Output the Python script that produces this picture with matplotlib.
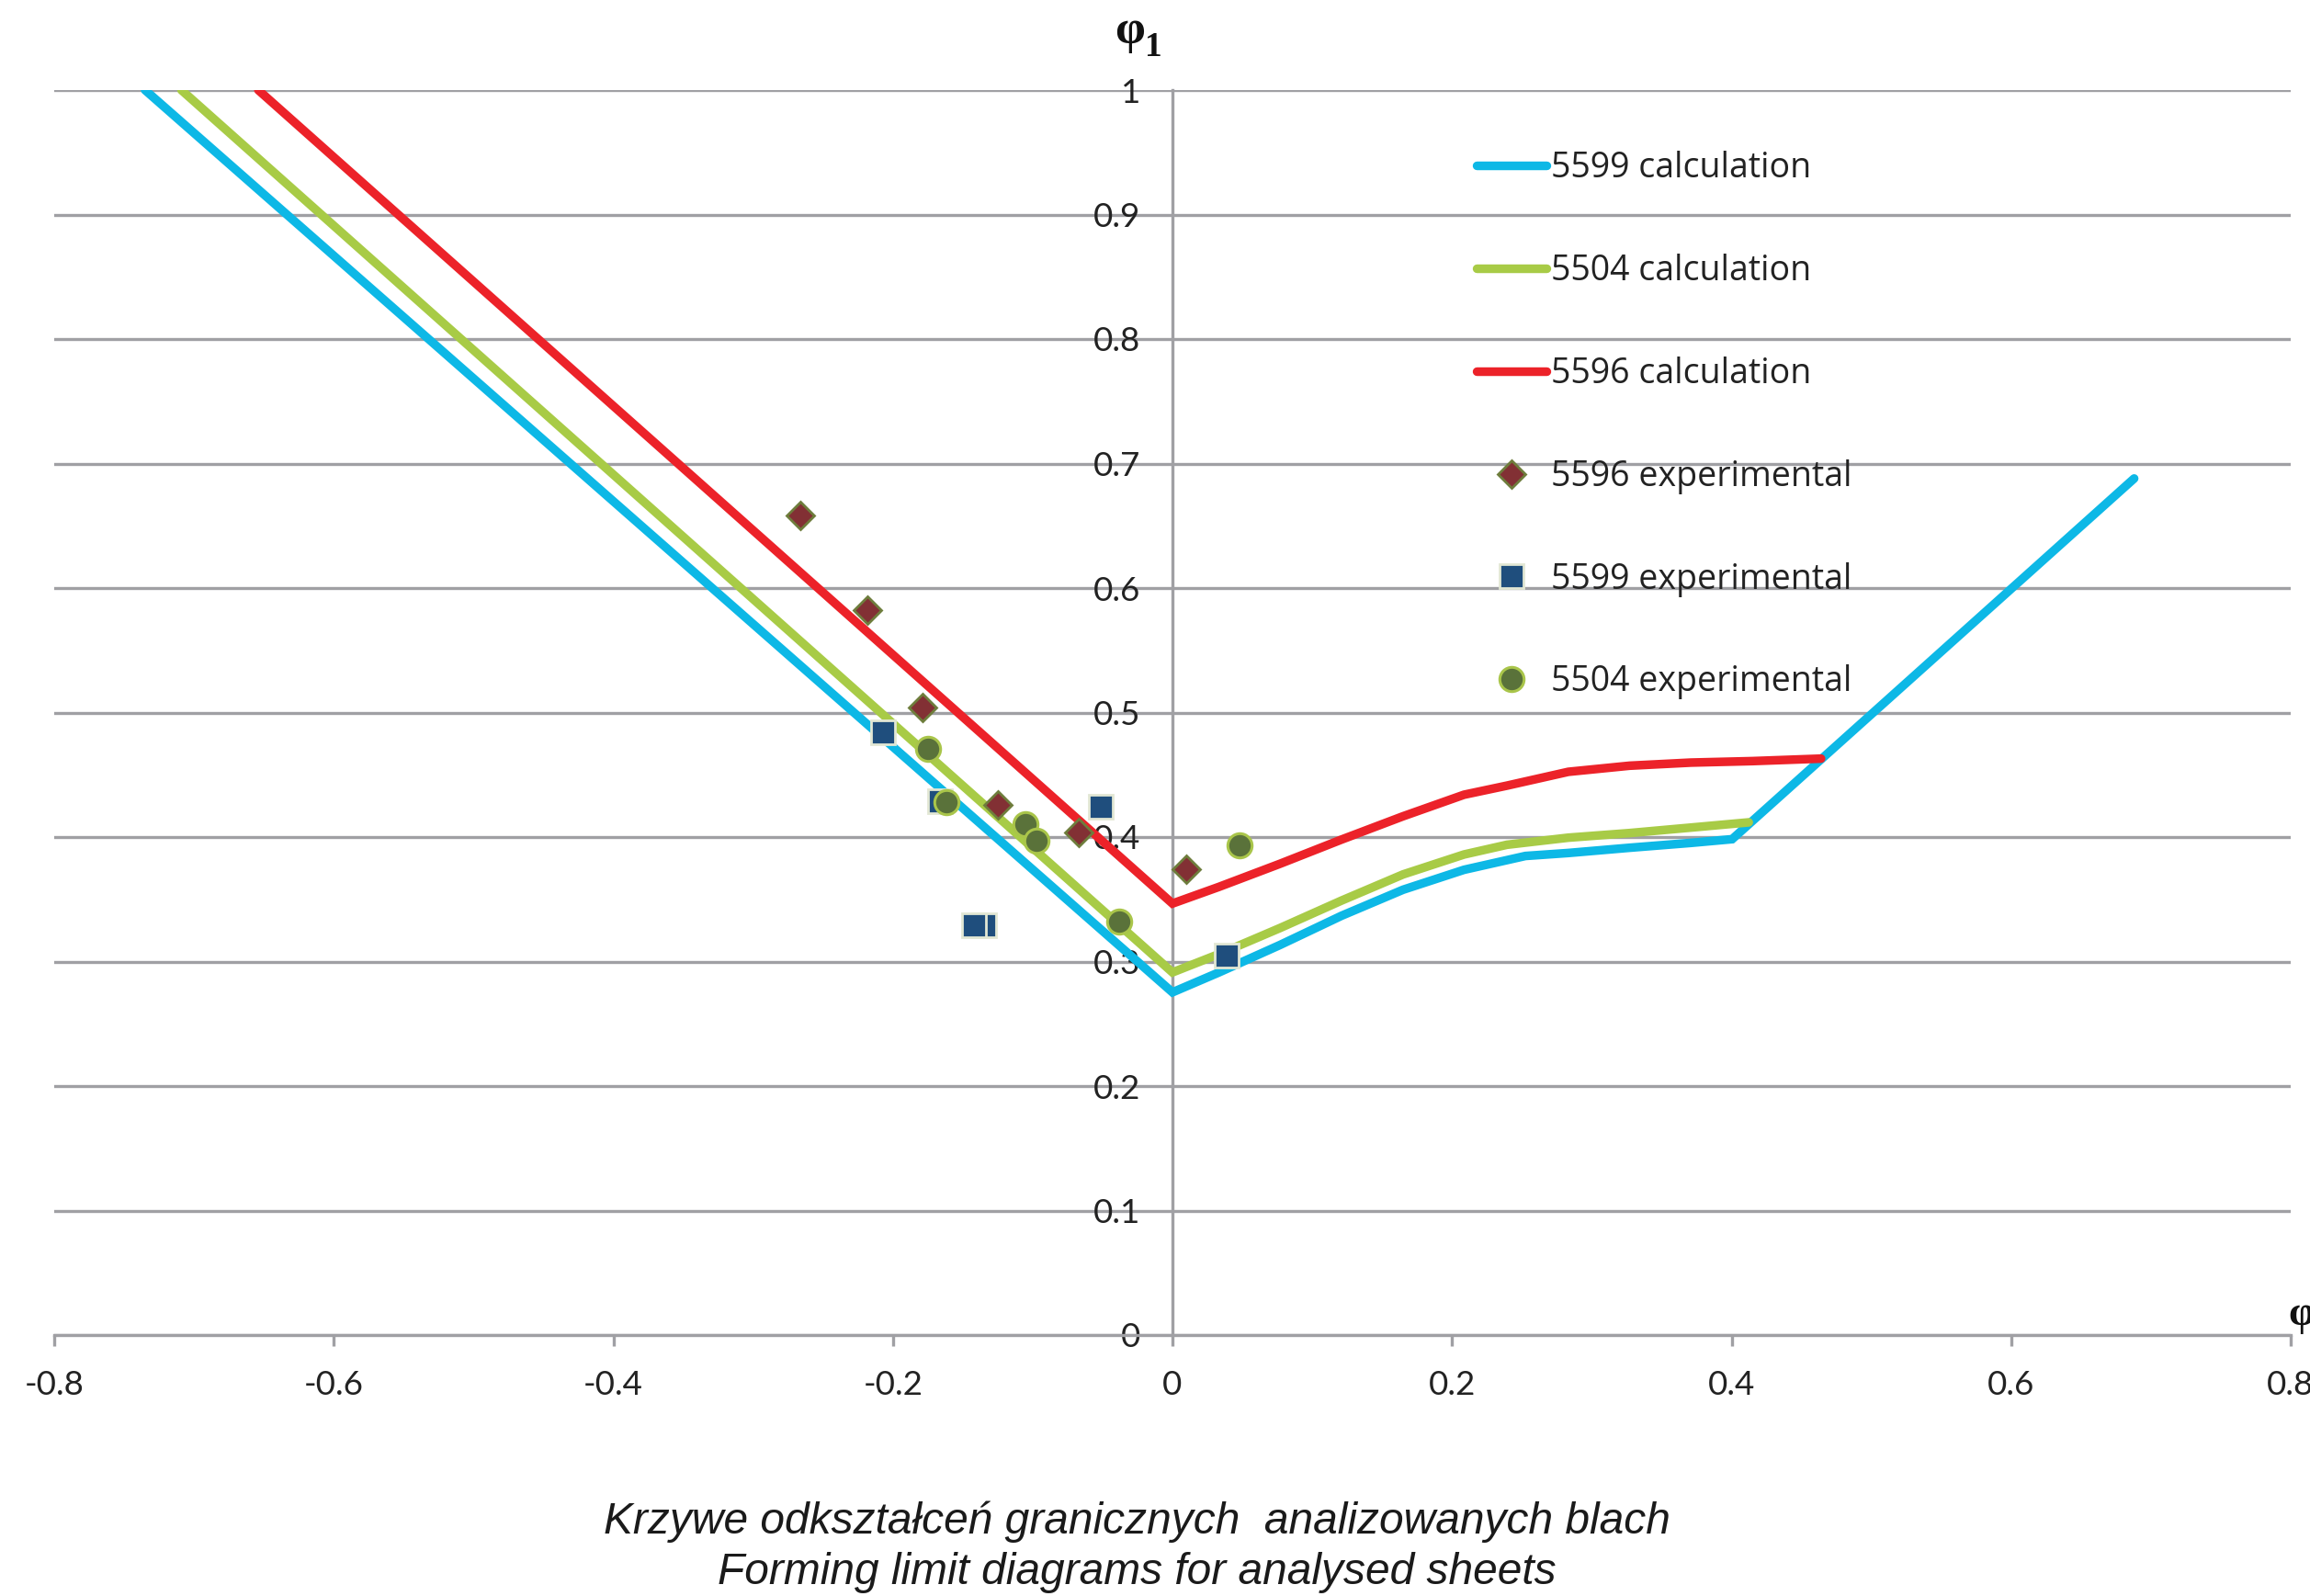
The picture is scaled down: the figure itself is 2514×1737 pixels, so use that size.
import matplotlib
matplotlib.use("Agg")
import matplotlib.pyplot as plt

# ---------------- data ----------------
calc_5599_x = [-0.735, 0.0, 0.0333, 0.0771, 0.121, 0.165, 0.2086, 0.2525, 0.2832, 0.327, 0.3708, 0.4004, 0.688]
calc_5599_y = [1.0, 0.2753, 0.2913, 0.3134, 0.3368, 0.3577, 0.3737, 0.3848, 0.3872, 0.3914, 0.3953, 0.3983, 0.688]

calc_5504_x = [-0.709, 0.0, 0.0333, 0.0771, 0.121, 0.165, 0.2086, 0.2393, 0.2832, 0.327, 0.3708, 0.4123]
calc_5504_y = [1.0, 0.2913, 0.306, 0.327, 0.349, 0.370, 0.386, 0.3938, 0.3995, 0.4032, 0.4076, 0.4118]

calc_5596_x = [-0.654, 0.0, 0.0333, 0.0771, 0.121, 0.165, 0.2086, 0.2393, 0.2832, 0.327, 0.3708, 0.4147, 0.464]
calc_5596_y = [1.0, 0.3466, 0.360, 0.3786, 0.398, 0.4167, 0.434, 0.4413, 0.4524, 0.4573, 0.4598, 0.461, 0.463]

exp_5596_x = [-0.266, -0.218, -0.179, -0.125, -0.067, 0.010]
exp_5596_y = [0.658, 0.582, 0.504, 0.426, 0.404, 0.374]

exp_5599_x = [-0.207, -0.166, -0.1346, -0.1417, -0.051, 0.039]
exp_5599_y = [0.484, 0.429, 0.329, 0.329, 0.424, 0.305]

exp_5504_x = [-0.175, -0.162, -0.105, -0.097, -0.038, 0.048]
exp_5504_y = [0.471, 0.428, 0.410, 0.397, 0.332, 0.393]

series_labels = ["5599 calculation", "5504 calculation", "5596 calculation",
                 "5596 experimental", "5599 experimental", "5504 experimental"]

x_ticks = [-0.8, -0.6, -0.4, -0.2, 0.0, 0.2, 0.4, 0.6, 0.8]
x_tick_labels = ["-0.8", "-0.6", "-0.4", "-0.2", "0", "0.2", "0.4", "0.6", "0.8"]
y_ticks = [0.0, 0.1, 0.2, 0.3, 0.4, 0.5, 0.6, 0.7, 0.8, 0.9, 1.0]
y_tick_labels = ["0", "0.1", "0.2", "0.3", "0.4", "0.5", "0.6", "0.7", "0.8", "0.9", "1"]

caption_lines = ["Krzywe odkształceń granicznych  analizowanych blach",
                 "Forming limit diagrams for analysed sheets"]

# ---------------- style ----------------
W, H = 2514, 1737
fig = plt.figure(figsize=(W / 100, H / 100), dpi=100)
fig.patch.set_facecolor("white")

ax_left, ax_right = 59 / W, 2493 / W
ax_bottom, ax_top = 1 - 1453 / H, 1 - 98 / H
ax = fig.add_axes([ax_left, ax_bottom, ax_right - ax_left, ax_top - ax_bottom])

GRID = "#A0A0A4"
BLUE = "#0DB8E6"
GREEN = "#A8CB46"
RED = "#EC2229"
TICKFONT = "Lato"
LEGFONT = "Open Sans"

ax.set_xlim(-0.8, 0.8)
ax.set_ylim(0, 1)

for s in ["top", "right"]:
    ax.spines[s].set_visible(False)
ax.spines["left"].set_position(("data", 0))
ax.spines["left"].set_color(GRID)
ax.spines["left"].set_linewidth(2.4)
ax.spines["bottom"].set_color(GRID)
ax.spines["bottom"].set_linewidth(2.4)

ax.set_xticks(x_ticks)
ax.set_xticklabels(x_tick_labels, fontfamily=TICKFONT, fontsize=26.5, color="#222222")
ax.set_yticks(y_ticks)
ax.set_yticklabels(y_tick_labels, fontfamily=TICKFONT, fontsize=26.5, color="#222222")
ax.tick_params(axis="x", direction="out", length=8.6, width=2.4, color=GRID, pad=18.5)
ax.tick_params(axis="y", length=0, pad=25)
ax.yaxis.grid(True, color=GRID, linewidth=2.4)
ax.set_axisbelow(True)

lw = 6.8
h1, = ax.plot(calc_5599_x, calc_5599_y, color=BLUE, lw=lw, solid_capstyle="round", solid_joinstyle="miter", zorder=3)
h2, = ax.plot(calc_5504_x, calc_5504_y, color=GREEN, lw=lw, solid_capstyle="round", solid_joinstyle="miter", zorder=3)
h3, = ax.plot(calc_5596_x, calc_5596_y, color=RED, lw=lw, solid_capstyle="round", solid_joinstyle="miter", zorder=3)

h4, = ax.plot(exp_5596_x, exp_5596_y, ls="none", marker="D", ms=15.5, mfc="#823034",
              mec="#6E7D3C", mew=2.0, zorder=4)
h5, = ax.plot(exp_5599_x, exp_5599_y, ls="none", marker="s", ms=19, mfc="#1F4E7D",
              mec="#E2E7D4", mew=2.0, zorder=5)
h6, = ax.plot(exp_5504_x, exp_5504_y, ls="none", marker="o", ms=19, mfc="#5A723A",
              mec="#A9C54A", mew=2.2, zorder=6)

leg = ax.legend([h1, h2, h3, h4, h5, h6], series_labels,
                loc="upper left", bbox_to_anchor=(1607 / W, 1 - 164 / H),
                bbox_transform=fig.transFigure, frameon=False,
                prop={"family": LEGFONT, "size": 27}, labelspacing=1.97,
                handlelength=2.03, handletextpad=0.13, borderpad=0, borderaxespad=0,
                numpoints=1)
for t in leg.get_texts():
    t.set_color("#222222")

# axis labels (phi)
fig.text(1213 / W, 1 - 47 / H, "φ", fontfamily="Liberation Serif", fontweight="bold",
         fontsize=38, ha="left", va="baseline", color="#111111")
fig.text(1246 / W, 1 - 61 / H, "1", fontfamily="Liberation Serif", fontweight="bold",
         fontsize=27, ha="left", va="baseline", color="#111111")
fig.text(2490 / W, 1 - 1442 / H, "φ", fontfamily="Liberation Serif", fontweight="bold",
         fontsize=33, ha="left", va="baseline", color="#111111")

# caption
fig.text(1237 / W, 1 - 1656 / H, caption_lines[0], fontfamily="Liberation Sans",
         style="italic", fontsize=34.5, ha="center", va="center", color="#1A1A1A")
fig.text(1237 / W, 1 - 1711 / H, caption_lines[1], fontfamily="Liberation Sans",
         style="italic", fontsize=34.5, ha="center", va="center", color="#1A1A1A")

fig.savefig("out.png", dpi=100, facecolor="white")
